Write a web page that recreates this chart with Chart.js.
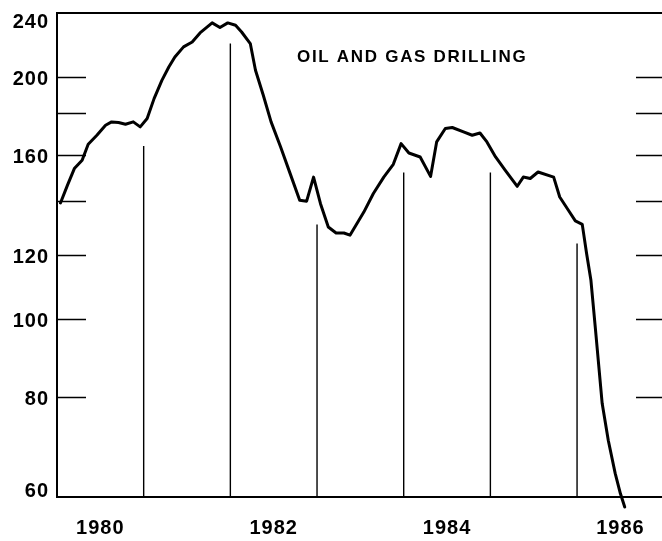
<!DOCTYPE html>
<html>
<head>
<meta charset="utf-8">
<script src="https://cdn.jsdelivr.net/npm/chart.js@4.4.1/dist/chart.umd.min.js"></script>
<style>
  html, body { margin:0; padding:0; background:#fff; }
  #wrap { width:662px; height:541px; }
</style>
</head>
<body>
<div id="wrap"><canvas id="chart" width="662" height="541"></canvas></div>
<script>
// drilling index: decimal year / value (log scale)
const drillYears = [
  1980.04, 1980.12, 1980.20, 1980.29, 1980.36, 1980.46, 1980.56, 1980.63, 1980.71, 1980.79,
  1980.88, 1980.96, 1981.04, 1981.12, 1981.21, 1981.29, 1981.36, 1981.46, 1981.56, 1981.65,
  1981.79, 1981.88, 1981.97, 1982.06, 1982.13, 1982.23, 1982.29, 1982.38, 1982.47, 1982.58,
  1982.69, 1982.80, 1982.88, 1982.96, 1983.04, 1983.13, 1983.22, 1983.31, 1983.38, 1983.54,
  1983.65, 1983.77, 1983.88, 1983.97, 1984.06, 1984.19, 1984.31, 1984.38, 1984.48, 1984.56,
  1984.69, 1984.79, 1984.88, 1984.96, 1985.06, 1985.17, 1985.31, 1985.38, 1985.46, 1985.55,
  1985.73, 1985.80, 1985.90, 1985.98, 1986.06, 1986.11, 1986.16, 1986.21, 1986.29, 1986.36,
  1986.44, 1986.50, 1986.55
];
const drillValues = [
  139.3, 146.5, 153.7, 157.4, 164.8, 169.1, 174.0, 175.7, 175.4, 174.5,
  175.7, 173.2, 177.4, 187.8, 197.9, 205.6, 211.6, 217.8, 220.9, 226.7,
  233.3, 230.2, 233.3, 231.7, 227.3, 219.9, 203.7, 189.6, 175.7, 163.5,
  151.5, 140.4, 140.0, 150.0, 139.0, 130.0, 127.8, 127.8, 127.0, 135.7,
  143.1, 150.0, 155.6, 165.1, 160.7, 158.9, 150.3, 165.9, 172.4, 172.9,
  170.7, 169.1, 170.2, 165.9, 158.9, 153.0, 146.1, 150.0, 149.4, 152.2,
  150.0, 141.7, 136.4, 132.3, 131.0, 120.5, 111.6, 97.6, 78.4, 70.6,
  64.2, 60.6, 58.3
];

// thin year lines and the value where each one stops
const markerYears = [1981, 1982, 1983, 1984, 1985, 1986];
const markerTops  = [164, 220, 131, 152, 152, 124];

const yTickMarks  = [80, 100, 120, 140, 160, 180, 200];
const yTickLabels = [60, 80, 100, 120, 160, 200, 240];
const xTickLabels = [1980, 1982, 1984, 1986];
const chartTitle  = 'OIL AND GAS DRILLING';

const LABEL_FONT = 'bold 20px "Liberation Sans", Arial, sans-serif';

const datasets = [{
  data: drillYears.map((yr, i) => ({ x: yr, y: drillValues[i] })),
  borderColor: '#000',
  borderWidth: 3,
  pointRadius: 0,
  tension: 0,
  borderJoinStyle: 'round',
  borderCapStyle: 'round',
  clip: false
}];
markerYears.forEach((yr, i) => {
  datasets.push({
    data: [{ x: yr, y: 60 }, { x: yr, y: markerTops[i] }],
    borderColor: '#000',
    borderWidth: 1.4,
    pointRadius: 0
  });
});

// frame, inside ticks, labels and title
const framePlugin = {
  id: 'frame',
  afterDraw(chart) {
    const { ctx, chartArea: a, scales: { x, y } } = chart;
    ctx.save();
    ctx.strokeStyle = '#000';
    ctx.fillStyle = '#000';

    ctx.lineWidth = 2;
    ctx.beginPath();
    ctx.moveTo(chart.width, a.top);
    ctx.lineTo(a.left, a.top);
    ctx.lineTo(a.left, a.bottom);
    ctx.lineTo(chart.width, a.bottom);
    ctx.stroke();

    ctx.lineWidth = 1.6;
    yTickMarks.forEach(v => {
      const py = Math.round(y.getPixelForValue(v)) + 0.5;
      ctx.beginPath();
      ctx.moveTo(a.left, py);
      ctx.lineTo(a.left + 29, py);
      ctx.moveTo(636, py);
      ctx.lineTo(chart.width, py);
      ctx.stroke();
    });

    ctx.font = LABEL_FONT;
    ctx.letterSpacing = '1px';
    ctx.textBaseline = 'alphabetic';
    ctx.textAlign = 'right';
    yTickLabels.forEach(v => {
      let py = y.getPixelForValue(v);
      if (v === 240) py += 6.5;
      if (v === 60) py -= 8;
      ctx.fillText(String(v), 49, py + 8);
    });

    ctx.textAlign = 'center';
    xTickLabels.forEach(yr => {
      ctx.fillText(String(yr), x.getPixelForValue(yr + 0.5), 534);
    });

    ctx.font = 'bold 17px "Liberation Sans", Arial, sans-serif';
    ctx.letterSpacing = '1.7px';
    ctx.textAlign = 'left';
    ctx.fillText(chartTitle, 297, 62);
    ctx.restore();
  }
};

new Chart(document.getElementById('chart'), {
  type: 'line',
  data: { datasets },
  options: {
    responsive: false,
    animation: false,
    events: [],
    layout: { padding: { top: 13, left: 57, right: 0, bottom: 44 } },
    plugins: { legend: { display: false }, tooltip: { enabled: false } },
    scales: {
      x: {
        type: 'linear',
        min: 1980,
        max: 1986.98,
        grid: { display: false, drawTicks: false },
        border: { display: false },
        ticks: { display: false }
      },
      y: {
        type: 'logarithmic',
        min: 60,
        max: 240,
        grid: { display: false, drawTicks: false },
        border: { display: false },
        ticks: { display: false }
      }
    }
  },
  plugins: [framePlugin]
});
</script>
</body>
</html>
